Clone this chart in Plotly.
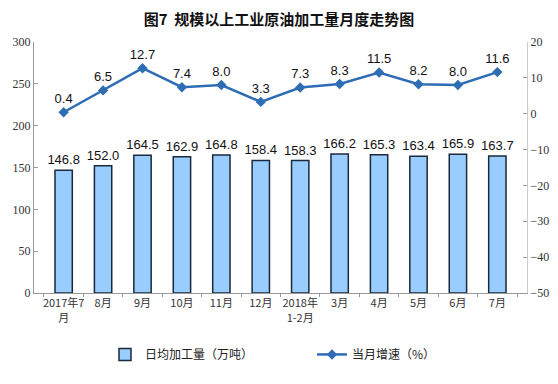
import plotly.graph_objects as go

categories = ["2017年7<br>月", "8月", "9月", "10月", "11月", "12月", "2018年<br>1-2月",
              "3月", "4月", "5月", "6月", "7月"]
daily_output = [146.8, 152.0, 164.5, 162.9, 164.8, 158.4, 158.3, 166.2, 165.3, 163.4, 165.9, 163.7]
growth_rate = [0.4, 6.5, 12.7, 7.4, 8.0, 3.3, 7.3, 8.3, 11.5, 8.2, 8.0, 11.6]

bar_labels = [f"{v:.1f}" for v in daily_output]
line_labels = [f"{v:.1f}" for v in growth_rate]

fig = go.Figure()
fig.add_trace(go.Bar(
    x=categories, y=daily_output, name="日均加工量（万吨）",
    marker=dict(color="#99ccff", line=dict(color="#1a2a3a", width=1.5)),
    width=0.44, text=bar_labels, textposition="outside", constraintext="none",
    textfont=dict(family="Liberation Sans, Arial", size=13, color="#111"),
    cliponaxis=False,
))
fig.add_trace(go.Scatter(
    x=categories, y=growth_rate, name="当月增速（%）", yaxis="y2",
    mode="lines+markers+text",
    line=dict(color="#2e6db4", width=2.5),
    marker=dict(symbol="diamond", size=8, color="#2e6db4"),
    text=line_labels, textposition="top center",
    textfont=dict(family="Liberation Sans, Arial", size=13, color="#111"),
    cliponaxis=False,
))

fig.update_layout(
    width=558, height=384,
    margin=dict(l=34, r=31, t=42, b=91, autoexpand=False),
    paper_bgcolor="white", plot_bgcolor="white",
    title=dict(text="<b>图7  规模以上工业原油加工量月度走势图</b>", x=0.5, xanchor="center",
               y=0.948, yanchor="middle",
               font=dict(family="Noto Sans CJK SC", size=15, color="#111")),
    showlegend=True,
    legend=dict(orientation="h", x=0.144, xanchor="left", y=-0.187, yanchor="top",
                font=dict(family="Noto Sans CJK SC", size=12, color="#222"),
                itemwidth=30, tracegroupgap=0, entrywidth=162),
    xaxis=dict(showline=True, linecolor="#999", linewidth=1, ticks="outside",
               tickson="boundaries", ticklen=3, tickcolor="#999", tickangle=0,
               tickfont=dict(family="Noto Sans CJK SC", size=11, color="#333"),
               showgrid=False),
    yaxis=dict(range=[0, 300], dtick=50, showline=True, linecolor="#999", linewidth=1,
               ticks="inside", ticklen=4, tickcolor="#999", showgrid=False, zeroline=False,
               tickfont=dict(family="Liberation Serif", size=12, color="#333")),
    yaxis2=dict(range=[-50, 20], dtick=10, overlaying="y", side="right",
                showline=True, linecolor="#ccc", linewidth=1,
                ticks="inside", ticklen=4, tickcolor="#999", showgrid=False, zeroline=False,
                tickfont=dict(family="Liberation Serif", size=12, color="#333")),
)

fig.write_html("out.html", config={"displayModeBar": False},
               post_script="document.body.style.margin='0';")
